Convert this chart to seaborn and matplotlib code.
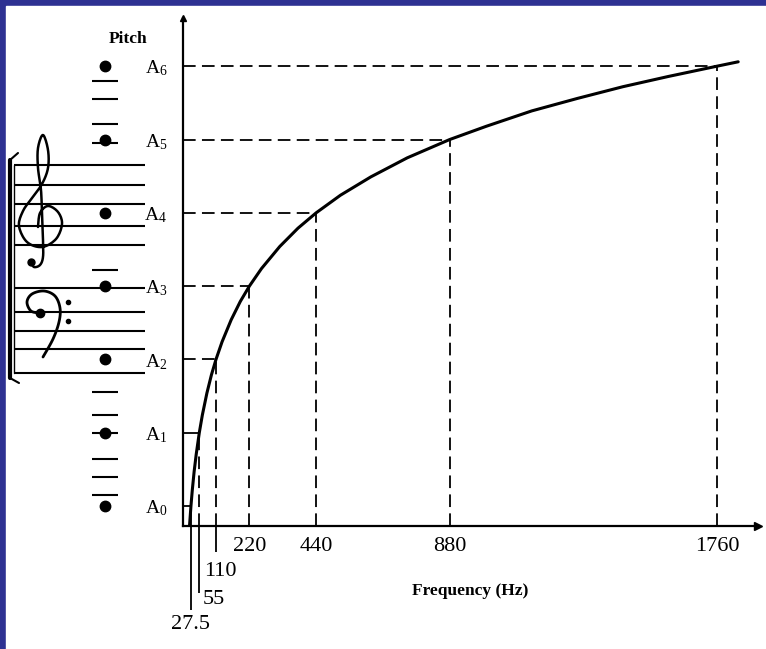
import numpy as np
import matplotlib.pyplot as plt
import matplotlib.transforms as mtransforms
import seaborn as sns

# pitch levels (octaves above A0) and their frequencies
pitch_labels = [r'$\mathrm{A}_{0}$', r'$\mathrm{A}_{1}$', r'$\mathrm{A}_{2}$', r'$\mathrm{A}_{3}$',
                r'$\mathrm{A}_{4}$', r'$\mathrm{A}_{5}$', r'$\mathrm{A}_{6}$']
pitch_octave = [0, 1, 2, 3, 4, 5, 6]
pitch_freq = [27.5, 55, 110, 220, 440, 880, 1760]

# points
curve_freq = [23, 27.5, 32, 38, 45, 55, 65, 80, 95, 110, 130, 160, 190, 220, 260, 320,
              380, 440, 520, 620, 740, 880, 1000, 1150, 1300, 1450, 1600, 1760, 1830]
curve_pitch = [-0.26, 0.0, 0.22, 0.47, 0.71, 1.0, 1.24, 1.54, 1.79, 2.0, 2.24, 2.54,
               2.79, 3.0, 3.24, 3.54, 3.79, 4.0, 4.24, 4.49, 4.75, 5.0, 5.18, 5.39,
               5.56, 5.72, 5.86, 6.0, 6.06]

# labels on the frequency axis
big_ticks = [220, 440, 880, 1760]
small_ticks = [27.5, 55, 110]
small_labels = ['27.5', '55', '110']

# staff drawing (pixel positions of the left-hand music panel)
treble_lines = [165, 185, 204, 226, 245]
bass_lines = [288, 312, 331, 349, 373]
ledger_lines = [81, 99, 124, 143, 270, 392, 415, 433, 459, 477, 495]

# clef outlines (pixels)
treble_pts = [(38, 227), (40, 213), (48, 206), (58, 212), (62, 224), (56, 239), (42, 247),
              (27, 242), (19, 226), (23, 211), (32, 198), (42, 184), (48, 168), (48, 150),
              (43, 135), (38, 148), (38, 168), (41, 190), (42, 215), (43, 240), (43, 257),
              (40, 265), (34, 267), (31, 262)]
bass_pts = [(40, 313), (31, 311), (27, 302), (32, 294), (44, 291), (55, 296), (60, 308),
            (59, 322), (53, 339), (43, 357)]

BLUE = '#2e3192'
sns.set_theme(style='white')
plt.rcParams['font.family'] = ['Liberation Serif', 'DejaVu Serif']
plt.rcParams['mathtext.fontset'] = 'custom'
plt.rcParams['mathtext.rm'] = 'Liberation Serif'
plt.rcParams['mathtext.it'] = 'Liberation Serif:italic'
for k in ['text.color', 'axes.labelcolor', 'xtick.color', 'ytick.color']:
    plt.rcParams[k] = 'black'


def smooth(pts, n=10):
    # catmull-rom through the traced points
    p = np.array(pts, dtype=float)
    p = np.vstack([p[0], p, p[-1]])
    out = []
    t = np.linspace(0, 1, n, endpoint=False)[:, None]
    for i in range(1, len(p) - 2):
        p0, p1, p2, p3 = p[i - 1], p[i], p[i + 1], p[i + 2]
        out.append(0.5 * ((2 * p1) + (-p0 + p2) * t + (2 * p0 - 5 * p1 + 4 * p2 - p3) * t ** 2
                          + (-p0 + 3 * p1 - 3 * p2 + p3) * t ** 3))
    out.append(p[-2][None, :])
    return np.vstack(out)


W, H = 766, 649
fig = plt.figure(figsize=(W / 100, H / 100), dpi=100, facecolor=BLUE)

# background layer in pixel coordinates
bg = fig.add_axes([0, 0, 1, 1], zorder=0)
bg.set_xlim(0, W)
bg.set_ylim(H, 0)
bg.axis('off')
bg.add_patch(plt.Rectangle((6, 6), W, H, color='white', zorder=0))

# main axes
x0, xr, ybot, ytop = 182.6, 758, 526, 18
ax = fig.add_axes([x0 / W, (H - ybot) / H, (xr - x0) / W, (ybot - ytop) / H], zorder=2)
ax.set_facecolor('none')
px_per_hz = 0.3036
px_per_oct = 73.3
a0_px = 506
ax.set_xlim(0, (xr - x0) / px_per_hz)
ymin = -(ybot - a0_px) / px_per_oct
ax.set_ylim(ymin, (a0_px - ytop) / px_per_oct)

dash = (0, (7, 3.5))
ax.hlines(pitch_octave[:2], 0, pitch_freq[:2], color='black', lw=1.3)
ax.hlines(pitch_octave[2:], 0, pitch_freq[2:], color='black', lw=1.3, linestyles=[dash])
ax.vlines(pitch_freq[:1], ymin, pitch_octave[:1], color='black', lw=1.3)
ax.vlines(pitch_freq[1:], ymin, pitch_octave[1:], color='black', lw=1.3, linestyles=[dash])

sns.lineplot(x=curve_freq, y=curve_pitch, ax=ax, color='black', lw=2.2, sort=False)

# leader lines for the crowded low-frequency labels
lead_ends = [-1.42, -1.19, -0.63]
ax.vlines(small_ticks, lead_ends, ymin, color='black', lw=1.3, clip_on=False)
ax.text(small_ticks[0], -1.61, small_labels[0], ha='center', va='center', fontsize=16)
ax.text(67, -1.28, small_labels[1], ha='left', va='center', fontsize=16)
ax.text(70, -0.90, small_labels[2], ha='left', va='center', fontsize=16)

ax.set_xticks(big_ticks)
ax.set_xticklabels([str(t) for t in big_ticks], fontsize=16)
ax.set_yticks(pitch_octave)
ax.set_yticklabels(pitch_labels, fontsize=14)
ax.tick_params(axis='x', length=0, pad=8)
ax.tick_params(axis='y', length=0, pad=11)
sns.despine(ax=ax)
for s in ['left', 'bottom']:
    ax.spines[s].set_color('black')
    ax.spines[s].set_linewidth(1.6)
ax.plot(1, ymin, marker='>', color='black', ms=6, transform=ax.get_yaxis_transform(), clip_on=False)
ax.plot(0, 1, marker='^', color='black', ms=5, transform=ax.get_xaxis_transform(), clip_on=False)
ax.set_xlabel('Frequency (Hz)', fontsize=12.5, fontweight='bold')
ax.xaxis.set_label_coords(0.5, -0.112)
ax.xaxis.label.set_va('top')
ax.set_ylabel('')

# music staff on the left
for y in treble_lines + bass_lines:
    bg.plot([14, 145], [y, y], color='black', lw=1.5, solid_capstyle='butt')
for y in ledger_lines:
    bg.plot([92, 118], [y, y], color='black', lw=1.5, solid_capstyle='butt')
bg.plot([10, 10], [160, 378], color='black', lw=3)
bg.plot([14, 14], [165, 373], color='black', lw=1)
bg.plot([10, 18], [160, 153], color='black', lw=1.5)
bg.plot([10, 19], [378, 383], color='black', lw=1.5)

note_tr = mtransforms.blended_transform_factory(bg.transData, ax.transData)
bg.plot([105] * len(pitch_octave), pitch_octave, 'o', color='black', ms=7.5,
        transform=note_tr, clip_on=False)

# clefs (no installed font has the musical symbols)
tc = smooth(treble_pts)
bg.plot(tc[:, 0], tc[:, 1], color='black', lw=1.8, solid_capstyle='round')
bg.plot(*treble_pts[-1], 'o', color='black', ms=5)
bc = smooth(bass_pts)
bg.plot(bc[:, 0], bc[:, 1], color='black', lw=2.0, solid_capstyle='round')
bg.plot(*bass_pts[0], 'o', color='black', ms=6)
bg.plot([68, 68], [302, 321], 'o', color='black', ms=3)

bg.text(128, 39, 'Pitch', fontsize=12.5, fontweight='bold', ha='center', va='center')

fig.savefig('out.png', dpi=100, facecolor=BLUE)
